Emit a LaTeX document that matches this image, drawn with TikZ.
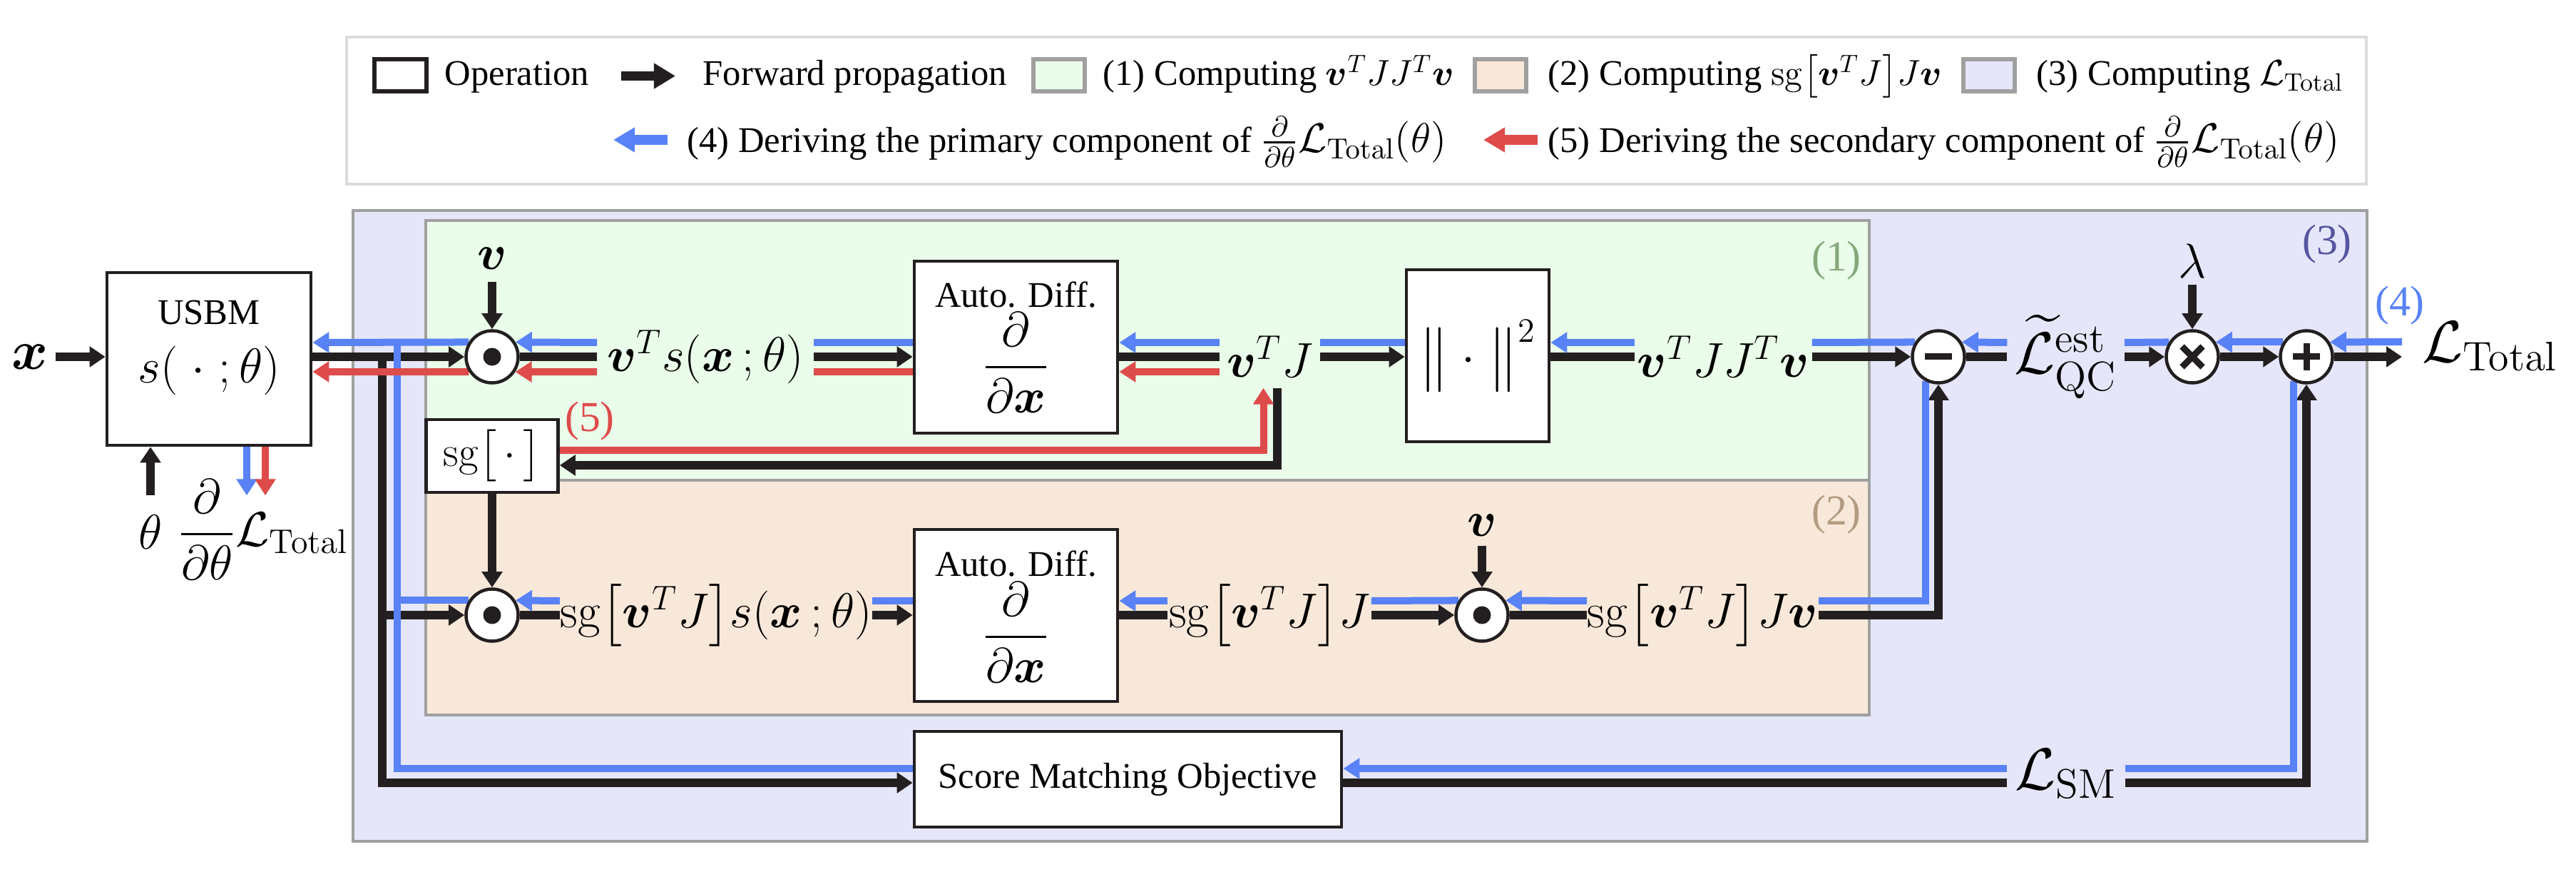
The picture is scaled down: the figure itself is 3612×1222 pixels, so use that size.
\RequirePackage{fix-cm}
\documentclass[tikz,border=0pt]{standalone}
\usepackage{amsmath}
\usepackage[no-math]{fontspec}
\setmainfont{Liberation Serif}
\usepackage{bm}
\usetikzlibrary{arrows.meta,calc}
\pgfdeclarelayer{bg}
\pgfdeclarelayer{lines}
\pgfsetlayers{bg,lines,main}
\definecolor{blk}{HTML}{231F20}
\definecolor{gblue}{HTML}{5882F6}
\definecolor{gred}{HTML}{DE4B4B}
\definecolor{fillG}{HTML}{EAFDEA}
\definecolor{fillT}{HTML}{F8E8D9}
\definecolor{fillB}{HTML}{E6E6FA}
\definecolor{regborder}{HTML}{A0A0A0}
\definecolor{legborder}{HTML}{DCDCDC}
\definecolor{labAc}{HTML}{84A87A}
\definecolor{labBc}{HTML}{B39B80}
\definecolor{labCc}{HTML}{5555A0}
\newcommand\txtsz{\fontsize{14.4pt}{17pt}\selectfont}
\newcommand\mathsz{\fontsize{19.5pt}{23pt}\selectfont}
\newcommand\Lsz{\fontsize{23.5pt}{28pt}\selectfont}
\newcommand\regsz{\fontsize{17pt}{20pt}\selectfont}
\newcommand\legmath[1]{{\fontsize{16.5pt}{19pt}\selectfont$#1$}}
\newcommand\sgb[1]{\mathrm{sg}{\left[#1\right]}}
\begin{document}
\begin{tikzpicture}[x=0.01cm,y=-0.01cm,
  opbox/.style={draw=blk,line width=0.45mm,fill=white,inner sep=0pt},
  op/.style={circle,draw=blk,line width=0.45mm,fill=white,minimum size=7.3mm,inner sep=0pt},
  dotop/.style={op,path picture={\fill[blk] (path picture bounding box.center) circle (1.25mm);}},
  minusop/.style={op,path picture={\draw[blk,line width=0.9mm] ([xshift=-1.9mm]path picture bounding box.center) -- ([xshift=1.9mm]path picture bounding box.center);}},
  plusop/.style={op,path picture={\draw[blk,line width=0.9mm] ([xshift=-1.9mm]path picture bounding box.center) -- ([xshift=1.9mm]path picture bounding box.center) ([yshift=-1.9mm]path picture bounding box.center) -- ([yshift=1.9mm]path picture bounding box.center);}},
  timesop/.style={op,path picture={\draw[blk,line width=0.9mm] ([shift={(-1.45mm,-1.45mm)}]path picture bounding box.center) -- ([shift={(1.45mm,1.45mm)}]path picture bounding box.center) ([shift={(-1.45mm,1.45mm)}]path picture bounding box.center) -- ([shift={(1.45mm,-1.45mm)}]path picture bounding box.center);}},
  lab/.style={inner sep=0pt,font=\mathsz},
  txt/.style={inner sep=0pt,font=\txtsz},
  legtxt/.style={inner sep=0pt,font=\txtsz,anchor=base west},
  legsq/.style={draw=regborder,line width=0.6mm,minimum width=7.2mm,minimum height=4.5mm,inner sep=0pt},
  fw/.style={draw=blk,line width=1.2mm},
  fwa/.style={fw,-{Triangle[length=2.2mm,width=2.8mm]}},
  bw/.style={draw=gblue,line width=1mm},
  bwa/.style={bw,-{Triangle[length=2.3mm,width=2.8mm]}},
  rw/.style={draw=gred,line width=1mm},
  rwa/.style={rw,-{Triangle[length=2.3mm,width=2.8mm]}},
  region/.style={draw=regborder,line width=0.45mm},
  reglab/.style={inner sep=0pt,font=\regsz}
  ]
\useasboundingbox (0,0) rectangle (3612,1222);
\begin{pgfonlayer}{bg}
\fill[white] (0,0) rectangle (3612,1222);
\draw[region,fill=fillB] (495,295) rectangle (3319,1179);
\draw[region,fill=fillG] (597,309) rectangle (2621,673);
\draw[region,fill=fillT] (597,673) rectangle (2621,1002);
\end{pgfonlayer}

% ---------- legend ----------
\node[draw=legborder,line width=0.45mm,minimum width=283mm,minimum height=20.6mm,inner sep=0pt] (legend) at (1902,155) {};
\node[legsq,draw=blk,fill=white] (lgop) at (561.5,105.5) {};
\node[legtxt] (lgopt) at (623,120) {Operation};
\coordinate (lgfa) at (871,106.5);
\coordinate (lgfb) at (947,106.5);
\node[legtxt] (lgfwt) at (985,120) {Forward propagation};
\node[legsq,fill=fillG] (lgg) at (1485,105.5) {};
\node[legtxt] (lgat) at (1546,120) {(1) Computing $\bm v^T J J^T \bm v$};
\node[legsq,fill=fillT] (lgt) at (2103.5,105.5) {};
\node[legtxt] (lgbt) at (2170,120) {(2) Computing $\sgb{\bm v^T J} J\bm v$};
\node[legsq,fill=fillB] (lgb) at (2788.5,105.5) {};
\node[legtxt] (lgct) at (2855,120) {(3) Computing $\mathcal{L}_{\mathrm{Total}}$};
\coordinate (lgba) at (936,196);
\coordinate (lgbb) at (860,196);
\node[legtxt] (lgdt) at (963,214) {(4) Deriving the primary component of \legmath{\frac{\partial}{\partial\theta}\mathcal{L}_{\mathrm{Total}}(\theta)}};
\coordinate (lgra) at (2156,196);
\coordinate (lgrb) at (2080,196);
\node[legtxt] (lget) at (2170,214) {(5) Deriving the secondary component of \legmath{\frac{\partial}{\partial\theta}\mathcal{L}_{\mathrm{Total}}(\theta)}};
\draw[draw=blk,line width=1.3mm,-{Triangle[length=3mm,width=3.4mm]}] (lgfa) -- (lgfb);
\draw[draw=gblue,line width=1.4mm,-{Triangle[length=3mm,width=3.3mm]}] (lgba) -- (lgbb);
\draw[draw=gred,line width=1.4mm,-{Triangle[length=3mm,width=3.3mm]}] (lgra) -- (lgrb);

% ---------- region labels ----------
\node[reglab,text=labAc] (rlabA) at (2575,365) {(1)};
\node[reglab,text=labBc] (rlabB) at (2575,721) {(2)};
\node[reglab,text=labCc] (rlabC) at (3263,342) {(3)};
\node[reglab,text=gblue] (rlabD) at (3365,428) {(4)};
\node[reglab,text=gred] (rlabE) at (827,590) {(5)};

% ---------- nodes ----------
\node[inner sep=1mm,font=\fontsize{22pt}{26pt}\selectfont] (xin) at (42,500) {$\bm x$};
\node[opbox,minimum width=28.6mm,minimum height=24.2mm] (usbm) at (293,503) {};
\node[txt] (usbmt) at (293,438) {USBM};
\node[lab] (usbms) at (293,519) {$s(\;\cdot\;;\theta)$};
\node[font=\mathsz,anchor=north,inner xsep=0pt,inner ysep=2.7mm] (theta) at (211,694) {$\theta$};
\node[lab] (dLdth) at (369,742) {$\dfrac{\partial}{\partial\theta}\mathcal{L}_{\mathrm{Total}}$};

\node[dotop] (c1) at (690,500) {};
\node[font=\mathsz,anchor=south,inner xsep=0pt,inner ysep=1.7mm] (v1) at (690,395) {$\bm v$};
\node[lab,minimum width=30.2mm] (lab1) at (989,500) {$\bm v^T s(\bm x\,;\theta)$};
\node[opbox,minimum width=28.5mm,minimum height=24.1mm] (ad1) at (1424.5,486.5) {};
\node[txt] (ad1t) at (1424.5,413) {Auto. Diff.};
\node[lab] (ad1f) at (1424.5,508) {$\dfrac{\partial}{\partial\bm x}$};
\node[lab,minimum width=13.9mm,minimum height=8.6mm] (lab2) at (1780.5,500) {$\bm v^T J$};
\node[opbox,font=\mathsz,minimum width=20mm,minimum height=24.1mm] (norm) at (2072,498.5) {$\left\|\vphantom{\bm v^T J}\;\cdot\;\right\|^2$};
\node[lab,minimum width=24.7mm] (lab3) at (2416.5,500) {$\bm v^T J J^T \bm v$};
\node[minusop] (cminus) at (2718,500) {};
\node[lab,font=\Lsz,minimum width=16.3mm] (labQC) at (2896.5,500) {$\widetilde{\mathcal{L}}^{\mathrm{est}}_{\mathrm{QC}}$};
\node[timesop] (ctimes) at (3074,500) {};
\node[font=\mathsz,anchor=south,inner xsep=0pt,inner ysep=0.9mm] (lam) at (3074,399) {$\lambda$};
\node[plusop] (cplus) at (3234,500) {};
\node[font=\Lsz,anchor=west,inner xsep=2.8mm,inner ysep=0pt] (labT) at (3368,485) {$\mathcal{L}_{\mathrm{Total}}$};

\node[opbox,font=\fontsize{17pt}{20pt}\selectfont,minimum width=18.5mm,minimum height=10.2mm] (sgbox) at (690,639) {$\sgb{\vphantom{\bm v^T}\,\cdot\,}$};
\node[dotop] (c2) at (690,862) {};
\node[lab,minimum width=42.8mm] (labB1) at (1004,862) {$\sgb{\bm v^T J}s(\bm x\,;\theta)$};
\node[opbox,minimum width=28.5mm,minimum height=24.1mm] (ad2) at (1424.5,862.5) {};
\node[txt] (ad2t) at (1424.5,790) {Auto. Diff.};
\node[lab] (ad2f) at (1424.5,886) {$\dfrac{\partial}{\partial\bm x}$};
\node[lab,minimum width=28.4mm] (labB2) at (1780,862) {$\sgb{\bm v^T J}J$};
\node[dotop] (c3) at (2078,862) {};
\node[font=\mathsz,anchor=south,inner xsep=0pt,inner ysep=1.3mm] (v3) at (2078,765) {$\bm v$};
\node[lab,minimum width=32.1mm] (labB3) at (2387.5,862) {$\sgb{\bm v^T J}J\bm v$};
\node[opbox,font=\txtsz,minimum width=59.9mm,minimum height=13.4mm] (smbox) at (1581.5,1092) {Score Matching Objective};
\node[lab,font=\Lsz,minimum width=16.4mm] (labSM) at (2897,1084) {$\mathcal{L}_{\mathrm{SM}}$};

\coordinate (jb) at (536,500);
\coordinate (jbl) at (557,480);
\coordinate (rowC) at (0,1097);

\begin{pgfonlayer}{lines}
% forward (black)
\draw[fwa] (xin.east) -- (usbm.west |- c1);
\draw[fwa] (usbm.east |- c1) -- (c1.west);
\draw[fwa] (jb) |- (smbox.west |- rowC);
\draw[fwa] (jb |- c2) -- (c2.west);
\draw[fwa] (theta.north) -- (theta.north |- usbm.south);
\draw[fwa] (v1.south) -- (c1.north);
\draw[fw] (c1.east) -- (lab1.west);
\draw[fwa] (lab1.east) -- (ad1.west |- c1);
\draw[fw] (ad1.east |- c1) -- (lab2.west);
\draw[fwa] (lab2.east) -- (norm.west |- c1);
\draw[fw] (norm.east |- c1) -- (lab3.west);
\draw[fwa] (lab3.east) -- (cminus.west);
\draw[fw] (cminus.east) -- (labQC.west);
\draw[fwa] (labQC.east) -- (ctimes.west);
\draw[fwa] (ctimes.east) -- (cplus.west);
\draw[fwa] (cplus.east) -- (labT.west |- cplus);
\draw[fwa] (lam.south) -- (ctimes.north);
\draw[fwa] ($(lab2.south)+(10,0)$) |- ($(sgbox.east)+(0,13)$);
\draw[fwa] (sgbox.south) -- (c2.north);
\draw[fw] (c2.east) -- (labB1.west);
\draw[fwa] (labB1.east) -- (ad2.west |- c2);
\draw[fw] (ad2.east |- c2) -- (labB2.west);
\draw[fwa] (labB2.east) -- (c3.west);
\draw[fwa] (v3.south) -- (c3.north);
\draw[fw] (c3.east) -- (labB3.west);
\draw[fwa] (labB3.east) -| (cminus.south);
\draw[fw] (smbox.east |- rowC) -- (labSM.west |- rowC);
\draw[fwa] (labSM.east |- rowC) -| (cplus.south);
% primary gradient (blue)
\draw[bwa] (c1.148) -- ($(usbm.east |- c1)+(0,-20)$);
\draw[bw] ($(smbox.west |- rowC)+(0,-20)$) -| (jbl);
\draw[bw] (c2.148) -- (jbl |- c2.148);
\draw[bwa] ($(usbm.south)+(53,0)$) -- ++(0,68);
\draw[bwa] ($(lab1.west)+(0,-20)$) -- (c1.32);
\draw[bw] ($(ad1.west |- c1)+(0,-20)$) -- ($(lab1.east)+(0,-20)$);
\draw[bwa] ($(lab2.west)+(0,-20)$) -- ($(ad1.east |- c1)+(0,-20)$);
\draw[bw] ($(norm.west |- c1)+(0,-20)$) -- ($(lab2.east)+(0,-20)$);
\draw[bwa] ($(lab3.west)+(0,-20)$) -- ($(norm.east |- c1)+(0,-20)$);
\draw[bw] (cminus.148) -- ($(lab3.east)+(0,-20)$);
\draw[bwa] ($(labQC.west)+(0,-20)$) -- (cminus.32);
\draw[bw] (ctimes.148) -- ($(labQC.east)+(0,-20)$);
\draw[bwa] (cplus.148) -- (ctimes.32);
\draw[bwa] ($(labT.west |- cplus)+(0,-21)$) -- (cplus.32);
\draw[bwa] ($(labB1.west)+(0,-20)$) -- (c2.32);
\draw[bw] ($(ad2.west |- c2)+(0,-20)$) -- ($(labB1.east)+(0,-20)$);
\draw[bwa] ($(labB2.west)+(0,-20)$) -- ($(ad2.east |- c2)+(0,-20)$);
\draw[bw] (c3.148) -- ($(labB2.east)+(0,-20)$);
\draw[bwa] ($(labB3.west)+(0,-20)$) -- (c3.32);
\draw[bw] (cminus.242) |- ($(labB3.east)+(0,-20)$);
\draw[bwa] ($(labSM.west |- rowC)+(0,-20)$) -- ($(smbox.east |- rowC)+(0,-20)$);
\draw[bw] (cplus.242) |- ($(labSM.east |- rowC)+(0,-20)$);
% secondary gradient (red)
\draw[rwa] (c1.213) -- ($(usbm.east |- c1)+(0,21)$);
\draw[rwa] ($(usbm.south)+(79,0)$) -- ++(0,68);
\draw[rwa] ($(lab1.west)+(0,21)$) -- (c1.-33);
\draw[rw] ($(ad1.west |- c1)+(0,21)$) -- ($(lab1.east)+(0,21)$);
\draw[rwa] ($(lab2.west)+(0,21)$) -- ($(ad1.east |- c1)+(0,21)$);
\draw[rwa] ($(sgbox.east)+(0,-8)$) -| ($(lab2.south)+(-9,0)$);
\end{pgfonlayer}
\end{tikzpicture}
\end{document}
